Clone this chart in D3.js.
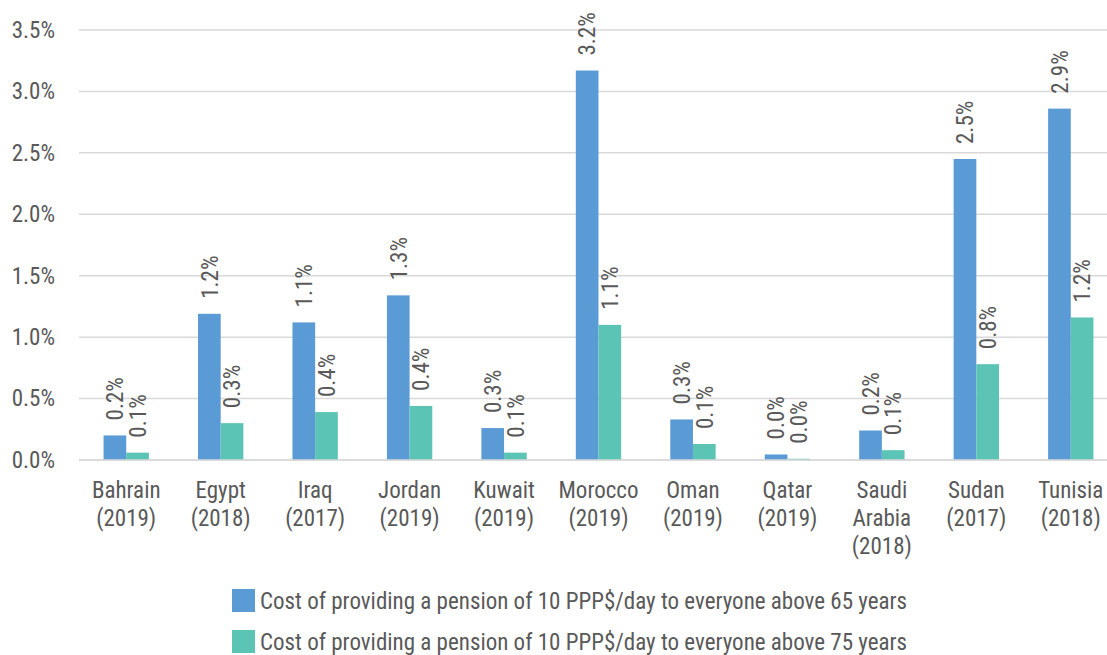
<!DOCTYPE html>
<html>
<head>
<meta charset="utf-8">
<script src="https://cdn.jsdelivr.net/npm/d3@7"></script>
<style>
  html, body { margin: 0; padding: 0; background: #fff; }
  svg { display: block; }
  text { font-family: "Roboto Condensed", "Roboto", sans-serif; font-stretch: condensed; fill: #595959; }
</style>
</head>
<body>
<svg id="chart" width="1107" height="655"></svg>
<script>
// Country (survey year) labels, one array entry per line
const categories = [
  ["Bahrain", "(2019)"],
  ["Egypt", "(2018)"],
  ["Iraq", "(2017)"],
  ["Jordan", "(2019)"],
  ["Kuwait", "(2019)"],
  ["Morocco", "(2019)"],
  ["Oman", "(2019)"],
  ["Qatar", "(2019)"],
  ["Saudi", "Arabia", "(2018)"],
  ["Sudan", "(2017)"],
  ["Tunisia", "(2018)"]
];

// Cost as a share of GDP
const above65 = [0.0020, 0.0119, 0.0112, 0.0134, 0.0026, 0.0317, 0.0033, 0.00045, 0.0024, 0.0245, 0.0286];
const above75 = [0.0006, 0.0030, 0.0039, 0.0044, 0.0006, 0.0110, 0.0013, 0.0001, 0.0008, 0.0078, 0.0116];

const seriesNames = [
  "Cost of providing a pension of 10 PPP$/day to everyone above 65 years",
  "Cost of providing a pension of 10 PPP$/day to everyone above 75 years"
];
const seriesColors = ["#5b9bd5", "#5bc4b4"];

const yTicks = [0, 0.005, 0.01, 0.015, 0.02, 0.025, 0.03, 0.035];

const FONT = 23;

const svg = d3.select("#chart");
const plot = { left: 79, right: 1118, top: 30, bottom: 460 };

const x = d3.scaleBand()
  .domain(d3.range(categories.length))
  .range([plot.left, plot.right])
  .paddingInner(0.52)
  .paddingOuter(0.26);

const xs = d3.scaleBand()
  .domain([0, 1])
  .range([0, x.bandwidth()]);

const y = d3.scaleLinear()
  .domain([0, 0.035])
  .range([plot.bottom, plot.top]);

const pct = d3.format(".1%");

// Horizontal gridlines
svg.append("g")
  .selectAll("line")
  .data(yTicks)
  .join("line")
  .attr("x1", plot.left)
  .attr("x2", plot.right)
  .attr("y1", d => y(d))
  .attr("y2", d => y(d))
  .attr("stroke", "#d9d9d9")
  .attr("stroke-width", 1.5);

// Y axis labels
const yAxis = d3.axisLeft(y).tickValues(yTicks).tickFormat(pct).tickSize(0).tickPadding(0);
const yg = svg.append("g")
  .attr("transform", `translate(55,0)`)
  .call(yAxis);
yg.select(".domain").remove();
yg.selectAll("text")
  .attr("font-size", FONT)
  .attr("fill", "#595959")
  .attr("font-family", null);

// Bars and rotated value labels
const series = [above65, above75];
series.forEach((vals, si) => {
  const g = svg.append("g");
  g.selectAll("rect")
    .data(vals)
    .join("rect")
    .attr("x", (d, i) => x(i) + xs(si))
    .attr("width", xs.bandwidth())
    .attr("y", d => y(d))
    .attr("height", d => y(0) - y(d))
    .attr("fill", seriesColors[si]);

  g.selectAll("text")
    .data(vals)
    .join("text")
    .attr("transform", (d, i) =>
      `translate(${x(i) + xs(si) + xs.bandwidth() / 2},${y(d) - 15}) rotate(-90)`)
    .attr("dy", "0.36em")
    .attr("text-anchor", "start")
    .attr("font-size", FONT)
    .text(d => pct(d));
});

// Baseline
svg.append("line")
  .attr("x1", plot.left).attr("x2", plot.right)
  .attr("y1", y(0)).attr("y2", y(0))
  .attr("stroke", "#d9d9d9").attr("stroke-width", 1.5);

// Category labels
const cat = svg.append("g")
  .selectAll("text")
  .data(categories)
  .join("text")
  .attr("text-anchor", "middle")
  .attr("font-size", FONT)
  .attr("x", (d, i) => x(i) + x.bandwidth() / 2)
  .attr("y", 498);
cat.selectAll("tspan")
  .data(d => d)
  .join("tspan")
  .attr("x", function () { return d3.select(this.parentNode).attr("x"); })
  .attr("dy", (d, j) => j === 0 ? 0 : 28)
  .text(d => d);

// Legend
const legend = svg.append("g")
  .selectAll("g")
  .data(seriesNames)
  .join("g")
  .attr("transform", (d, i) => `translate(232,${589 + i * 41})`);
legend.append("rect")
  .attr("width", 23).attr("height", 23)
  .attr("fill", (d, i) => seriesColors[i]);
legend.append("text")
  .attr("x", 28).attr("y", 11.5)
  .attr("dy", "0.36em")
  .attr("font-size", FONT)
  .text(d => d);
</script>
</body>
</html>
